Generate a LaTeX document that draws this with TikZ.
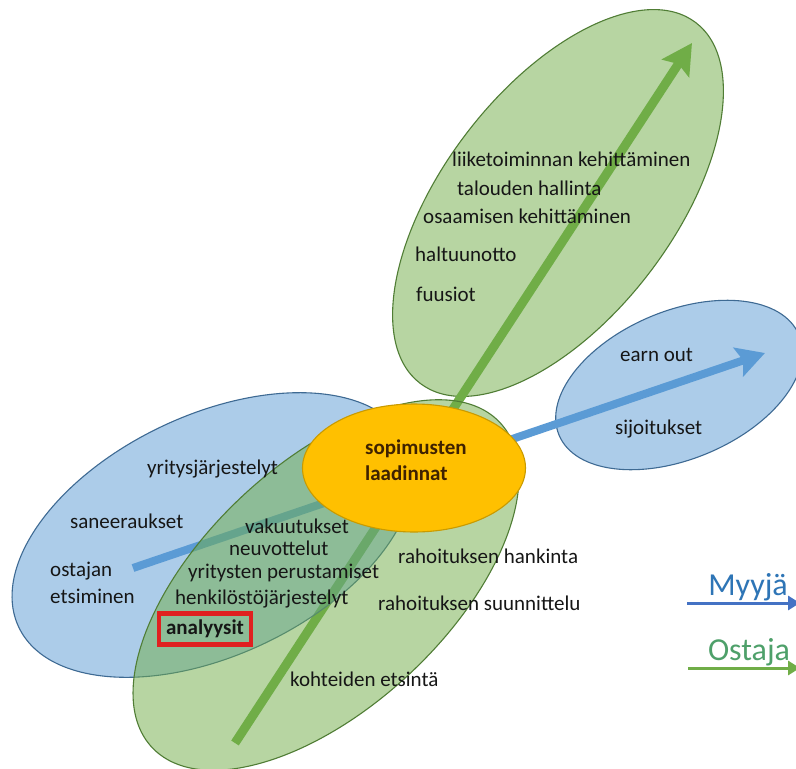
\documentclass[tikz,border=0pt]{standalone}
\usepackage{fontspec}
\setmainfont{Carlito}
\usetikzlibrary{shapes.geometric,arrows.meta}
\definecolor{gfill}{HTML}{70AD47}
\definecolor{bfill}{HTML}{5B9BD5}
\definecolor{gline}{HTML}{507D35}
\definecolor{bline}{HTML}{3E6A93}
\definecolor{ofill}{HTML}{FFC000}
\definecolor{oline}{HTML}{C99A00}
\definecolor{otext}{HTML}{3F2200}
\definecolor{txt}{HTML}{161616}
\definecolor{legb}{HTML}{4472C4}
\definecolor{legbt}{HTML}{2E75B6}
\definecolor{leggt}{HTML}{4EA06A}
\definecolor{redbox}{HTML}{E02020}
\begin{document}
\begin{tikzpicture}[x=1pt,y=-1pt,
  blob/.style={ellipse, inner sep=0pt, line width=1.1pt},
  gblob/.style={blob, draw=gline, fill=gfill, fill opacity=0.5},
  bblob/.style={blob, draw=bline, fill=bfill, fill opacity=0.5},
  lbl/.style={anchor=base west, inner sep=0pt, text=txt, font=\fontsize{21}{24}\selectfont},
  olbl/.style={lbl, text=otext, font=\fontsize{21}{24}\selectfont\bfseries},
  garrow/.style={draw=gfill, line width=9pt, -{Stealth[length=30pt, width=32pt, inset=5pt]}},
  barrow/.style={draw=bfill, line width=8pt, -{Stealth[length=28pt, width=30pt, inset=5pt]}},
  legtext/.style={inner sep=0pt, font=\fontsize{32}{36}\selectfont},
  legline/.style={line width=3pt, -{Triangle[length=12pt, width=14pt]}}
]
\useasboundingbox (0,0) rectangle (796,769);
\fill[white] (0,0) rectangle (796,769);

% back ellipses
\node[gblob, minimum width=454pt, minimum height=230pt, rotate=52.6] (upg) at (558,203) {};
\node[bblob, minimum width=260pt, minimum height=148pt, rotate=22.7] (rb) at (679,385) {};

% arrows
\coordinate (gs) at (235,743);
\coordinate (ge) at (692,43);
\coordinate (bs) at (133,568);
\coordinate (be) at (765,353);
\draw[garrow] (gs) -- (ge);
\draw[barrow] (bs) -- (be);

% front ellipses
\node[bblob, minimum width=430pt, minimum height=240pt, rotate=25.4] (lb) at (213,535) {};
\node[gblob, minimum width=476pt, minimum height=244pt, rotate=43] (lowg) at (326,585) {};
\node[ellipse, inner sep=0pt, draw=oline, line width=1.1pt, fill=ofill, minimum width=223pt, minimum height=128pt] (or) at (414,468) {};

% orange text
\node[olbl] (t1) at (365,454) {sopimusten};
\node[olbl] (t2) at (365,480) {laadinnat};

% upper green texts
\node[lbl] (u1) at (452,166) {liiketoiminnan kehittäminen};
\node[lbl] (u2) at (457,195) {talouden hallinta};
\node[lbl] (u3) at (423,223) {osaamisen kehittäminen};
\node[lbl] (u4) at (415,261) {haltuunotto};
\node[lbl] (u5) at (416,301) {fuusiot};

% right blue texts
\node[lbl] (r1) at (620,361) {earn out};
\node[lbl] (r2) at (615,434) {sijoitukset};

% left blue texts
\node[lbl] (l1) at (147,474) {yritysjärjestelyt};
\node[lbl] (l2) at (70,528) {saneeraukset};
\node[lbl] (l3) at (50,576) {ostajan};
\node[lbl] (l4) at (50,603) {etsiminen};

% overlap texts
\node[lbl] (o1) at (245,533) {vakuutukset};
\node[lbl] (o2) at (229,555) {neuvottelut};
\node[lbl] (o3) at (188,578) {yritysten perustamiset};
\node[lbl] (o4) at (175,604) {henkilöstöjärjestelyt};
\node[draw=redbox, line width=4.5pt, inner xsep=7pt, inner ysep=6pt, text height=15pt, text depth=4pt, text=txt, font=\fontsize{21}{24}\selectfont\bfseries] (an) at (205,629) {analyysit};

% lower green texts
\node[lbl] (g1) at (398,563) {rahoituksen hankinta};
\node[lbl] (g2) at (378,610) {rahoituksen suunnittelu};
\node[lbl] (g3) at (290,686) {kohteiden etsintä};

% legend
\node[legtext, text=legbt] (myyja) at (748,587) {Myyjä};
\node[legtext, text=leggt] (ostaja) at (749,652) {Ostaja};
\coordinate (m1) at (687,603);
\coordinate (m2) at (800,603);
\coordinate (s1) at (688,668);
\coordinate (s2) at (800,668);
\draw[legline, draw=legb, fill=legb] (m1) -- (m2);
\draw[legline, draw=gfill, fill=gfill] (s1) -- (s2);
\end{tikzpicture}
\end{document}
